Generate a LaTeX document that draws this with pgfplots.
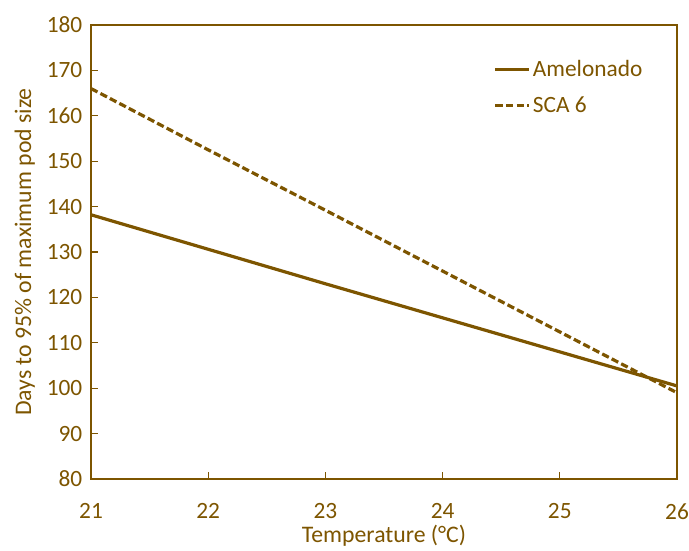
\documentclass[border=0pt]{standalone}
\usepackage{fontspec}
\setmainfont{Carlito}
\usepackage{pgfplots}
\pgfplotsset{compat=1.18}
\definecolor{brn}{HTML}{7D5500}
\begin{document}
\begin{tikzpicture}
\begin{axis}[
  at={(0,0)}, anchor=south west,
  scale only axis, width=439.5pt, height=340.5pt,
  xmin=21, xmax=26, ymin=80, ymax=180,
  xtick={21,...,26}, ytick={80,90,...,180},
  axis line style={brn, line width=1pt},
  tick style={brn, line width=1pt},
  tick align=inside, major tick length=5pt,
  xtick pos=bottom, ytick pos=left,
  ticklabel style={font=\fontsize{17.5}{20}\selectfont, text=brn},
  /pgf/number format/assume math mode=true,
  xticklabel style={yshift=-15pt},
  yticklabel style={xshift=-3pt},
  xlabel={Temperature (°C)}, ylabel={Days to 95\% of maximum pod size},
  label style={font=\fontsize{17.8}{20}\selectfont, text=brn},
  xlabel style={yshift=3pt},
  ylabel style={yshift=2pt},
  legend style={draw=none, fill=none, at={(0.68,0.935)}, anchor=north west,
    font=\fontsize{17.5}{20}\selectfont, text=brn, row sep=10pt},
  legend cell align=left,
  legend image code/.code={\draw[#1] (0pt,0pt) -- (25pt,0pt);},
]
\addplot[brn, line width=2.4pt] coordinates {(21,138.2) (22,130.6) (23,123.0) (24,115.5) (25,108.0) (26,100.5)};
\addlegendentry{Amelonado}
\addplot[brn, line width=2.4pt, dash pattern=on 5.5pt off 2.5pt] coordinates {(21,166.0) (22,152.5) (23,139.2) (24,125.8) (25,112.4) (26,99.0)};
\addlegendentry{SCA 6}
\end{axis}
\pgfresetboundingbox
\path[use as bounding box] (-68.25pt,-53.25pt) rectangle (448.5pt,359.25pt);
\end{tikzpicture}
\end{document}
